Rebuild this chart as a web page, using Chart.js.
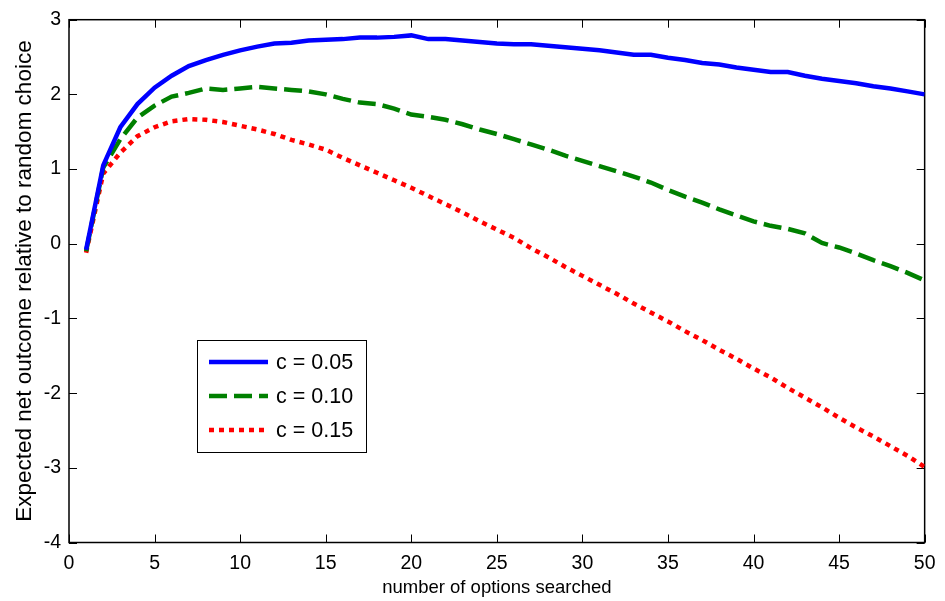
<!DOCTYPE html>
<html>
<head>
<meta charset="utf-8">
<script src="https://cdn.jsdelivr.net/npm/chart.js@4"></script>
<style>
  html, body { margin: 0; padding: 0; background: #fff; }
  #wrap { width: 945px; height: 601px; }
</style>
</head>
<body>
<div id="wrap"><canvas id="c" width="945" height="601"></canvas></div>
<script>
// ---- data ----
const optionsSearched = [1,2,3,4,5,6,7,8,9,10,11,12,13,14,15,16,17,18,19,20,21,22,23,24,25,26,27,28,29,30,31,32,33,34,35,36,37,38,39,40,41,42,43,44,45,46,47,48,49,50];
const seriesLabels = ['c = 0.05', 'c = 0.10', 'c = 0.15'];
const c005 = [-0.08, 1.05, 1.56, 1.87, 2.09, 2.25, 2.38, 2.46, 2.53, 2.59, 2.64, 2.68, 2.69, 2.72, 2.73, 2.74, 2.76, 2.76, 2.77, 2.79, 2.74, 2.74, 2.72, 2.70, 2.68, 2.67, 2.67, 2.65, 2.63, 2.61, 2.59, 2.56, 2.53, 2.53, 2.49, 2.46, 2.42, 2.40, 2.36, 2.33, 2.30, 2.30, 2.25, 2.21, 2.18, 2.15, 2.11, 2.08, 2.04, 2.00];
const c010 = [-0.10, 1.02, 1.40, 1.69, 1.85, 1.97, 2.02, 2.08, 2.06, 2.08, 2.10, 2.08, 2.06, 2.04, 2.00, 1.94, 1.89, 1.87, 1.81, 1.73, 1.70, 1.66, 1.60, 1.53, 1.47, 1.40, 1.33, 1.26, 1.18, 1.11, 1.04, 0.97, 0.90, 0.82, 0.72, 0.63, 0.55, 0.46, 0.38, 0.30, 0.24, 0.20, 0.14, 0.01, -0.05, -0.13, -0.22, -0.30, -0.39, -0.49];
const c015 = [-0.12, 0.94, 1.22, 1.44, 1.56, 1.64, 1.67, 1.66, 1.63, 1.58, 1.53, 1.47, 1.39, 1.33, 1.26, 1.15, 1.05, 0.95, 0.85, 0.75, 0.64, 0.53, 0.42, 0.30, 0.19, 0.08, -0.06, -0.18, -0.31, -0.43, -0.55, -0.67, -0.80, -0.92, -1.04, -1.17, -1.29, -1.42, -1.54, -1.67, -1.79, -1.93, -2.06, -2.19, -2.33, -2.46, -2.58, -2.71, -2.84, -2.99];
const xTicks = [0, 5, 10, 15, 20, 25, 30, 35, 40, 45, 50];
const yTicks = [-4, -3, -2, -1, 0, 1, 2, 3];
const xTitle = 'number of options searched';
const yTitle = 'Expected net outcome relative to random choice';

const FONT = "'Liberation Sans', Arial, Helvetica, sans-serif";

function pts(ys) { return optionsSearched.map((x, i) => ({x: x, y: ys[i]})); }

// MATLAB-like box with inward ticks
const boxPlugin = {
  id: 'boxTicks',
  beforeDatasetsDraw(chart) {
    const {ctx, chartArea: a, scales} = chart;
    const tl = 8;
    ctx.save();
    ctx.strokeStyle = '#000';
    ctx.lineWidth = 1;
    ctx.beginPath();
    xTicks.forEach(v => {
      const px = Math.round(scales.x.getPixelForValue(v)) + 0.5;
      ctx.moveTo(px, a.bottom); ctx.lineTo(px, a.bottom - tl);
      ctx.moveTo(px, a.top); ctx.lineTo(px, a.top + tl);
    });
    yTicks.forEach(v => {
      const py = Math.round(scales.y.getPixelForValue(v)) + 0.5;
      ctx.moveTo(a.left, py); ctx.lineTo(a.left + tl, py);
      ctx.moveTo(a.right, py); ctx.lineTo(a.right - tl, py);
    });
    ctx.stroke();
    ctx.lineWidth = 1.5;
    ctx.strokeRect(a.left, a.top, a.right - a.left, a.bottom - a.top);
    ctx.restore();
  }
};

// legend box placed inside the axes
const legendPlugin = {
  id: 'boxLegend',
  afterDatasetsDraw(chart) {
    const {ctx} = chart;
    const bx = 197, by = 340, bw = 169, bh = 112;
    const rows = [362, 396, 430];
    ctx.save();
    ctx.fillStyle = '#fff';
    ctx.fillRect(bx, by, bw, bh);
    ctx.strokeStyle = '#000';
    ctx.lineWidth = 1;
    ctx.strokeRect(bx + 0.5, by + 0.5, bw, bh);
    chart.data.datasets.forEach((ds, i) => {
      const y = rows[i];
      ctx.save();
      ctx.strokeStyle = ds.borderColor;
      ctx.lineWidth = ds.borderWidth;
      ctx.lineCap = 'butt';
      ctx.setLineDash(ds.borderDash || []);
      ctx.beginPath();
      ctx.moveTo(209, y); ctx.lineTo(268, y);
      ctx.stroke();
      ctx.restore();
      ctx.fillStyle = '#000';
      ctx.font = '21.5px ' + FONT;
      ctx.textBaseline = 'middle';
      ctx.textAlign = 'left';
      ctx.fillText(ds.label, 276, y + 1);
    });
    ctx.restore();
  }
};

new Chart(document.getElementById('c'), {
  type: 'line',
  data: {
    datasets: [
      { label: seriesLabels[0], data: pts(c005), borderColor: '#0000ff', borderWidth: 4.5, pointRadius: 0, tension: 0, borderCapStyle: 'butt' },
      { label: seriesLabels[1], data: pts(c010), borderColor: '#008000', borderWidth: 4.5, borderDash: [18, 7], pointRadius: 0, tension: 0, borderCapStyle: 'butt' },
      { label: seriesLabels[2], data: pts(c015), borderColor: '#ff0000', borderWidth: 4.5, borderDash: [5, 5], pointRadius: 0, tension: 0, borderCapStyle: 'butt' }
    ]
  },
  options: {
    responsive: false,
    animation: false,
    devicePixelRatio: 1,
    layout: { padding: { top: 18, right: 14, left: 0, bottom: 0 } },
    plugins: { legend: { display: false }, tooltip: { enabled: false } },
    scales: {
      x: {
        type: 'linear', min: 0, max: 50,
        afterBuildTicks: s => { s.ticks = xTicks.map(v => ({value: v})); },
        afterFit: s => { s.height = 58.5; },
        grid: { display: false, drawTicks: false, tickLength: 0 },
        border: { display: false },
        ticks: { padding: 9.5, color: '#000', font: { family: FONT, size: 19.5 }, maxRotation: 0 },
        title: { display: true, text: xTitle, color: '#000', font: { family: FONT, size: 18.5 }, padding: { top: 0, bottom: 2 } }
      },
      y: {
        type: 'linear', min: -4, max: 3,
        afterBuildTicks: s => { s.ticks = yTicks.map(v => ({value: v})); },
        afterFit: s => { s.width = 69; },
        grid: { display: false, drawTicks: false, tickLength: 0 },
        border: { display: false },
        ticks: { padding: 8, color: '#000', font: { family: FONT, size: 19.5 } },
        title: { display: true, text: yTitle, color: '#000', font: { family: FONT, size: 22.5 }, padding: { top: 11.5, bottom: 0 } }
      }
    }
  },
  plugins: [boxPlugin, legendPlugin]
});
</script>
</body>
</html>
